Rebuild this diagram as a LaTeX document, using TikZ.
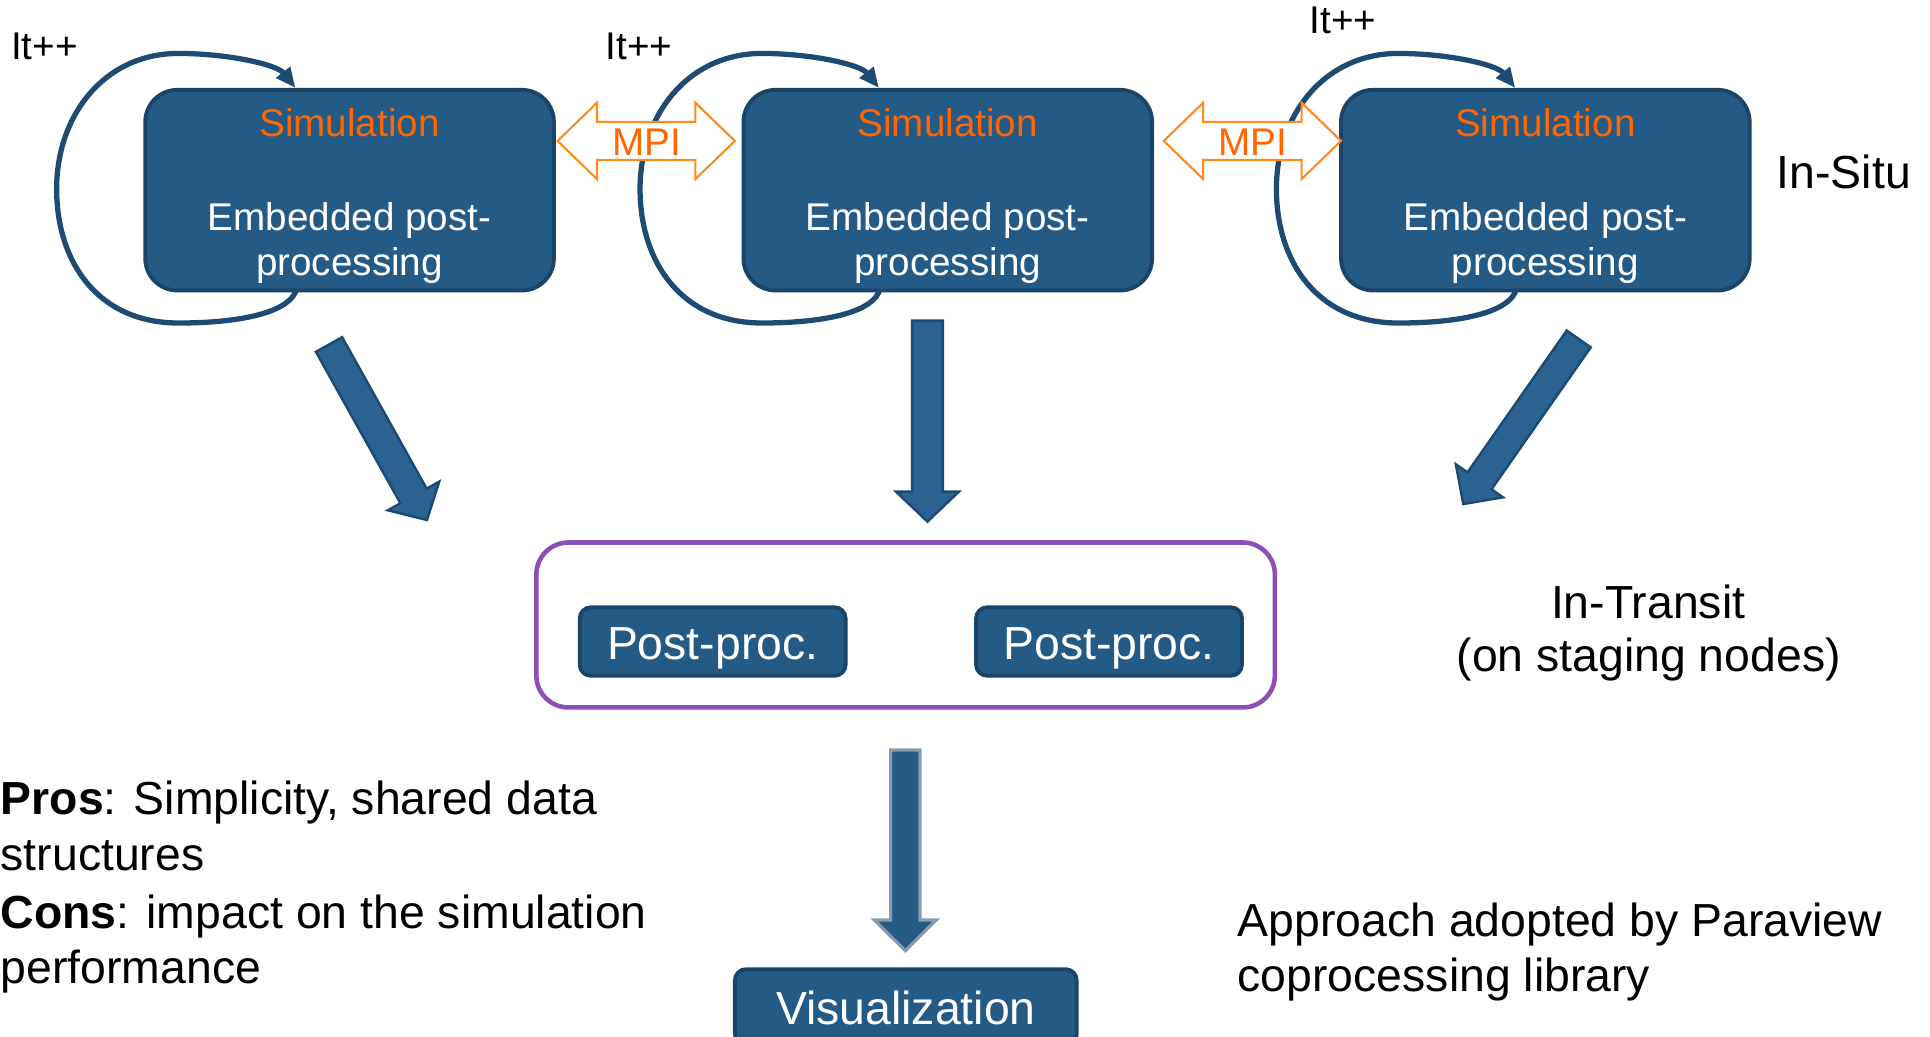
\documentclass[tikz,border=0pt]{standalone}
\usepackage{fontspec}
\setmainfont{Liberation Sans}
\usetikzlibrary{calc,arrows.meta}

\definecolor{boxblue}{RGB}{36,90,134}
\definecolor{boxedge}{RGB}{26,68,104}
\definecolor{loopcol}{RGB}{30,75,115}
\definecolor{arrowfill}{RGB}{42,98,146}
\definecolor{arrowedge}{RGB}{29,74,114}
\definecolor{simorange}{RGB}{255,102,0}
\definecolor{mpiedge}{RGB}{255,138,30}
\definecolor{stagepurple}{RGB}{140,79,183}
\definecolor{vislight}{RGB}{138,155,176}

% one drawing unit = one pixel of a 1568 px wide canvas
\def\unitpx{0.012309cm}

\tikzset{
  simbox/.style={rectangle, rounded corners=26*\unitpx, fill=boxblue, draw=boxedge,
    line width=1.1pt, minimum width=332*\unitpx, minimum height=163*\unitpx, inner sep=0pt},
  procbox/.style={rectangle, rounded corners=9*\unitpx, fill=boxblue, draw=boxedge,
    line width=1.1pt, inner sep=0pt},
  stagebox/.style={rectangle, rounded corners=26*\unitpx, draw=stagepurple,
    line width=1.3pt, minimum width=600*\unitpx, minimum height=134*\unitpx, inner sep=0pt},
  smalltxt/.style={font=\fontsize{11}{13}\selectfont, inner sep=0pt, anchor=base},
  bigtxt/.style={font=\fontsize{13.2}{16}\selectfont, inner sep=0pt, anchor=base},
  loopline/.style={draw=loopcol, line width=1.5pt,
    -{Triangle[length=0.2cm,width=0.17cm]}},
  fatarrow/.style={fill=arrowfill, draw=arrowedge, line width=0.7pt, line join=miter},
  mpiarrow/.style={fill=white, draw=mpiedge, line width=0.6pt, line join=miter},
}

% iteration loop leaving the bottom of a box and re-entering its top
\newcommand\itloop[2]{%
  \draw[loopline] ($(#1.north)+(#2+1,163)$)
    .. controls ($(#1.north)+(#2-3,181)$) and ($(#1.north)+(#2-40,191)$) .. ($(#1.north)+(#2-95,191)$)
    .. controls ($(#1.north)+(#2-160,191)$) and ($(#1.north)+(#2-194,142)$) .. ($(#1.north)+(#2-194,82)$)
    .. controls ($(#1.north)+(#2-194,22)$) and ($(#1.north)+(#2-155,-28)$) .. ($(#1.north)+(#2-95,-28)$)
    .. controls ($(#1.north)+(#2-55,-28)$) and ($(#1.north)+(#2-15,-19)$) .. ($(#1.north)+(#2,0)$);}

% block arrow: tail, tip, half shaft width, half head width, head length
\newcommand\blockarrow[6][fatarrow]{%
  \path ($(#3)!#6*\unitpx!(#2)$) coordinate (ba-neck);
  \draw[#1] ($(#2)!#4*\unitpx!90:(#3)$) -- ($(ba-neck)!#4*\unitpx!90:(#3)$)
    -- ($(ba-neck)!#5*\unitpx!90:(#3)$) -- (#3)
    -- ($(ba-neck)!#5*\unitpx!-90:(#3)$) -- ($(ba-neck)!#4*\unitpx!-90:(#3)$)
    -- ($(#2)!#4*\unitpx!-90:(#3)$) -- cycle;}

% hollow two-headed MPI arrow around a centre coordinate
\newcommand\mpishape[1]{%
  \draw[mpiarrow] ($(#1)+(-72,0)$) -- ($(#1)+(-40,-31)$) -- ($(#1)+(-40,-15.5)$)
    -- ($(#1)+(40,-15.5)$) -- ($(#1)+(40,-31)$) -- ($(#1)+(72,0)$)
    -- ($(#1)+(40,31)$) -- ($(#1)+(40,15.5)$) -- ($(#1)+(-40,15.5)$)
    -- ($(#1)+(-40,31)$) -- cycle;}

\begin{document}
\begin{tikzpicture}[x=\unitpx, y=-\unitpx]
\useasboundingbox (0,0) rectangle (1568,842.5);
\clip (0,0) rectangle (1568,842.5);

% simulation boxes
\node[simbox] (b1) at (284,154.5) {};
\node[simbox] (b2) at (770,154.5) {};
\node[simbox] (b3) at (1255.5,154.5) {};

% iteration loops
\itloop{b1}{-44}
\itloop{b2}{-56}
\itloop{b3}{-24.5}

% box contents
\foreach \b in {b1,b2,b3}{
  \node[smalltxt, text=simorange] (\b-sim) at (\b.north |- 0,110.5) {Simulation};
  \node[smalltxt, text=white] (\b-emb) at (\b.north |- 0,187) {Embedded post-};
  \node[smalltxt, text=white] (\b-pro) at (\b.north |- 0,223.5) {processing};
}

% iteration labels
\node[smalltxt] (it1) at (36,48.7) {It++};
\node[smalltxt] (it2) at (519,48.2) {It++};
\node[smalltxt] (it3) at (1091,27.1) {It++};

% MPI exchanges between neighbouring simulations
\coordinate (m1) at (525,114.5);
\coordinate (m2) at (1017.5,114.5);
\mpishape{m1}
\mpishape{m2}
\node[smalltxt, text=simorange] (mpi1) at (525.5,126) {MPI};
\node[smalltxt, text=simorange] (mpi2) at (1018,126) {MPI};

\node[bigtxt] (insitu) at (1498,153) {In-Situ};

% data flow towards the staging nodes
\coordinate (t1) at (267.3,279.9);  \coordinate (p1) at (346.9,422.5);
\coordinate (t2) at (753.5,260.5);  \coordinate (p2) at (753.5,423.8);
\coordinate (t3) at (1282.6,275.4); \coordinate (p3) at (1188.8,409.5);
\blockarrow{t1}{p1}{12.2}{23.9}{22.4}
\blockarrow{t2}{p2}{12.5}{25.6}{24.4}
\blockarrow{t3}{p3}{11.9}{23.4}{23}

% staging area
\node[stagebox] (stage) at (735.75,507.75) {};
\node[procbox, minimum width=216*\unitpx, minimum height=55.6*\unitpx] (pp1) at (579,521.2) {};
\node[procbox, minimum width=216*\unitpx, minimum height=55.6*\unitpx] (pp2) at (901,521.2) {};
\node[bigtxt, text=white] (pp1t) at (579,536.2) {Post-proc.};
\node[bigtxt, text=white] (pp2t) at (901,536.2) {Post-proc.};

\node[bigtxt] (transit1) at (1339,502.3) {In-Transit};
\node[bigtxt] (transit2) at (1339.5,545.7) {(on staging nodes)};

% visualization
\coordinate (t4) at (735.5,609.3);
\coordinate (p4) at (735.5,772.4);
\blockarrow[{fill=boxblue, draw=vislight, line width=0.9pt, line join=miter}]{t4}{p4}{11.9}{25.2}{25}
\node[procbox, minimum width=277.7*\unitpx, minimum height=61.5*\unitpx] (vis) at (735.9,818.2) {};
\node[bigtxt, text=white] (vist) at (736,832.5) {Visualization};

% remarks
\node[bigtxt, anchor=base west] (pros) at (0,662) {\textbf{Pros}: Simplicity, shared data};
\node[bigtxt, anchor=base west] (pros2) at (0,707) {structures};
\node[bigtxt, anchor=base west] (cons) at (0,754) {\textbf{Cons}: impact on the simulation};
\node[bigtxt, anchor=base west] (cons2) at (0,799) {performance};

\node[bigtxt, anchor=base west] (appr1) at (1005,761) {Approach adopted by Paraview};
\node[bigtxt, anchor=base west] (appr2) at (1005,805.7) {coprocessing library};
\end{tikzpicture}
\end{document}
